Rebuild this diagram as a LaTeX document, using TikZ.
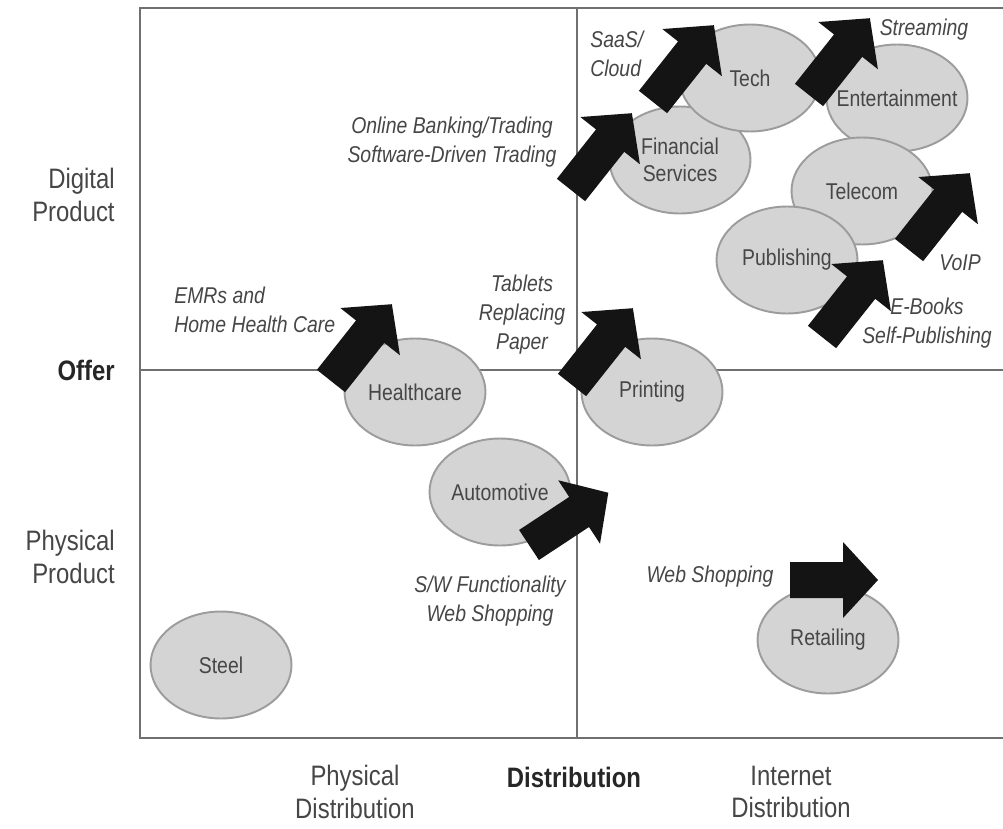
\documentclass[tikz,border=0pt]{standalone}
\usepackage{fontspec}
\setmainfont{Liberation Sans}[FakeStretch=0.85]
\usepackage{xcolor}
\usetikzlibrary{shapes.geometric}

\definecolor{mktfill}{HTML}{D4D4D4}
\definecolor{mktline}{HTML}{9C9C9C}
\definecolor{inktext}{HTML}{464646}
\definecolor{gridline}{HTML}{707070}

\begin{document}
\begin{tikzpicture}[x=0.02cm, y=-0.02cm,
    every node/.style={align=center, inner sep=0pt, text=inktext},
    market/.style={ellipse, draw=mktline, line width=1.1pt, fill=mktfill, minimum width=2.82cm, minimum height=2.14cm},
    mkttext/.style={font=\fontsize{13}{15}\selectfont},
    note/.style={font=\fontsize{13}{16.5}\selectfont\itshape},
    axis/.style={font=\fontsize{16}{18.5}\selectfont},
    axistitle/.style={font=\fontsize{16}{18.5}\selectfont\bfseries, text=black!85},
    pics/bigarrow/.style={code={\fill[black!92] (0,-18) -- ({#1-35},-18) -- ({#1-35},-38) -- (#1,0) -- ({#1-35},38) -- ({#1-35},18) -- (0,18) -- cycle;}}]
    \useasboundingbox (0,0) rectangle (1003,828);

    % quadrant frame
    \draw[gridline, line width=0.9pt] (1003,8) -- (140,8) -- (140,738) -- (1003,738);
    \draw[gridline, line width=0.9pt] (577,8) -- (577,738);
    \draw[gridline, line width=0.9pt] (140,370) -- (1003,370);

    % axis labels
    \node[axis, anchor=east, align=right] (digital) at (115,195) {Digital\\Product};
    \node[axistitle, anchor=east] (offer) at (115,370) {Offer};
    \node[axis, anchor=east, align=right] (physical) at (115,557) {Physical\\Product};
    \node[axis] (physdist) at (355,792) {Physical\\Distribution};
    \node[axistitle] (distribution) at (574,777) {Distribution};
    \node[axis] (netdist) at (791,792) {Internet\\Distribution};

    % industries
    \node[market, label={[mkttext]center:{Financial\\Services}}] (finance) at (680,160) {};
    \node[market, label={[mkttext]center:Tech}] (tech) at (750,78) {};
    \node[market, label={[mkttext]center:Entertainment}] (entertain) at (897,98) {};
    \node[market, label={[mkttext]center:Telecom}] (telecom) at (862,191) {};
    \node[market, label={[mkttext]center:Publishing}] (publish) at (787,260) {};
    \node[market, label={[mkttext]center:Healthcare}] (health) at (415,392) {};
    \node[market, label={[mkttext]center:Printing}] (printing) at (652,392) {};
    \node[market, label={[mkttext]center:Automotive}] (auto) at (500,492) {};
    \node[market, label={[mkttext]center:Retailing}] (retail) at (828,640) {};
    \node[market, label={[mkttext]center:Steel}] (steel) at (221,665) {};

    % shifts
    \pic[rotate=51.6] at (571,190) {bigarrow=98};
    \pic[rotate=51.6] at (653,102) {bigarrow=98};
    \pic[rotate=51.6] at (809,95) {bigarrow=98};
    \pic[rotate=51.6] at (909,250) {bigarrow=98};
    \pic[rotate=51.6] at (822,337) {bigarrow=98};
    \pic[rotate=51.6] at (331,381) {bigarrow=98};
    \pic[rotate=51.6] at (572,385) {bigarrow=98};
    \pic[rotate=33.4] at (529,545) {bigarrow=95};
    \pic at (790,580) {bigarrow=88};

    % what drives them
    \node[note, anchor=west, align=left] (saas) at (590,54) {SaaS/\\Cloud};
    \node[note] (streaming) at (924,30) {Streaming};
    \node[note] (banking) at (452,142) {Online Banking/Trading\\Software-Driven Trading};
    \node[note] (voip) at (960,263) {VoIP};
    \node[note] (ebooks) at (927,323) {E-Books\\Self-Publishing};
    \node[note, anchor=west, align=left] (emr) at (174,310) {EMRs and\\Home Health Care};
    \node[note] (tablets) at (522,315) {Tablets\\Replacing\\Paper};
    \node[note] (swfunc) at (490,601) {S/W Functionality\\Web Shopping};
    \node[note] (webshop) at (710,577) {Web Shopping};
\end{tikzpicture}
\end{document}
